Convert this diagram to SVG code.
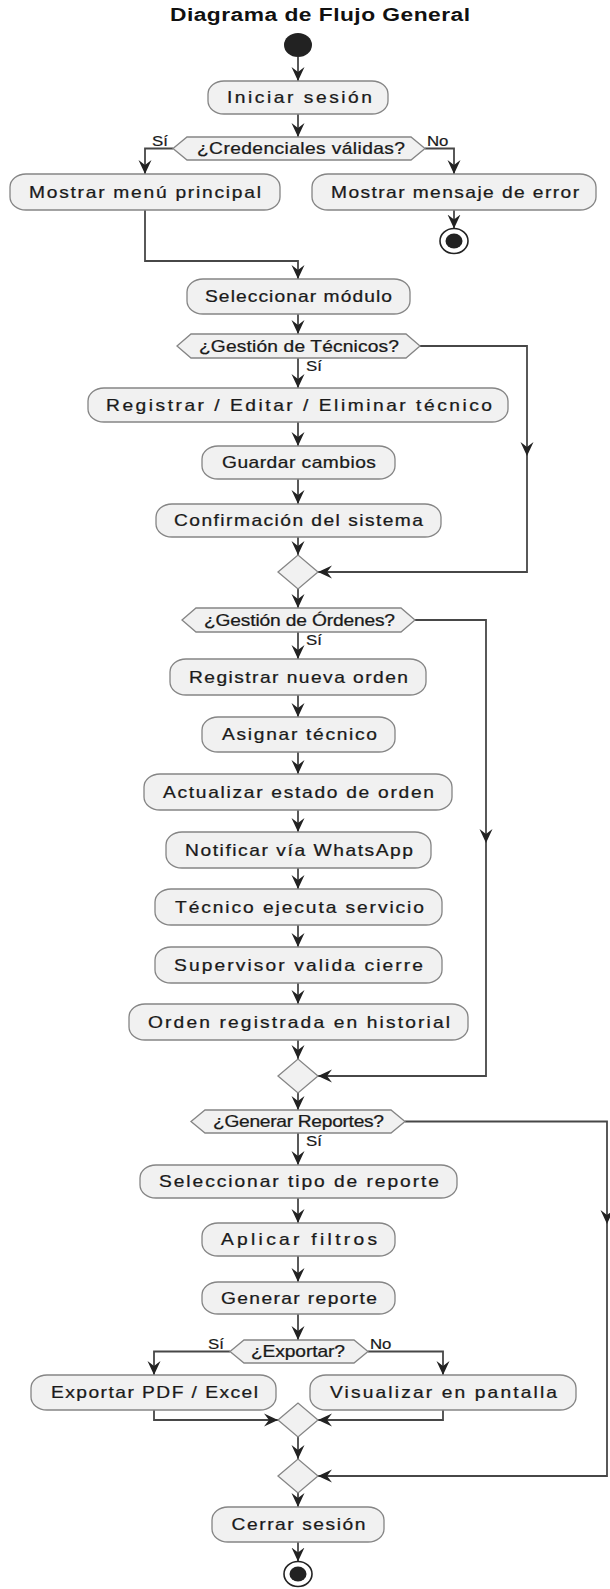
<svg xmlns="http://www.w3.org/2000/svg" width="610" height="1589" viewBox="0 0 610 1589">
<style>
.box{fill:#F1F1F1;stroke:#858585;stroke-width:1.3}
.dec{fill:#F1F1F1;stroke:#858585;stroke-width:1.3}
.t{font-family:"Liberation Sans",Arial,sans-serif;font-size:16px;fill:#1a1a1a;stroke:#1a1a1a;stroke-width:0.25}
.lb{font-family:"Liberation Sans",Arial,sans-serif;font-size:14px;fill:#1a1a1a;stroke:#1a1a1a;stroke-width:0.2}
.ttl{font-family:"Liberation Sans",Arial,sans-serif;font-size:19px;font-weight:bold;fill:#111}
.c{fill:none;stroke:#474747;stroke-width:1.8}
.a{marker-end:url(#ah)}
.dot{fill:#222}
.ring{fill:#fff;stroke:#222;stroke-width:1.6}
</style>
<defs>
<marker id="ah" viewBox="0 0 14 14" refX="14" refY="7" markerWidth="14" markerHeight="14" markerUnits="userSpaceOnUse" orient="auto">
<path d="M0,0.5 L14,7 L0,13.5 L5,7 Z" fill="#222"/>
</marker>
</defs>
<rect width="610" height="1589" fill="#fff"/>
<text class="ttl" transform="translate(170 21) scale(1.2 1)" textLength="250" lengthAdjust="spacing">Diagrama de Flujo General</text>

<g id="connectors">
<path class="c a" d="M298,57 V81"/>
<path class="c a" d="M298,114 V137"/>
<path class="c a" d="M173,148.5 H145 V174"/>
<path class="c a" d="M425,148.5 H454 V174"/>
<path class="c a" d="M454,210 V228.5"/>
<path class="c a" d="M145,210 V261 H298 V279"/>
<path class="c a" d="M298,314 V334"/>
<path class="c a" d="M420,346 H527 V456"/>
<path class="c a" d="M527,456 V572 H318"/>
<path class="c a" d="M298,358 V388"/>
<path class="c a" d="M298,422 V446"/>
<path class="c a" d="M298,479 V504"/>
<path class="c a" d="M298,537 V555"/>
<path class="c a" d="M298,589 V608"/>
<path class="c a" d="M415,620 H486 V843"/>
<path class="c a" d="M486,843 V1076 H318"/>
<path class="c a" d="M298,632 V659"/>
<path class="c a" d="M298,695 V717"/>
<path class="c a" d="M298,752 V774"/>
<path class="c a" d="M298,810 V832"/>
<path class="c a" d="M298,868 V889"/>
<path class="c a" d="M298,925 V947"/>
<path class="c a" d="M298,983 V1004"/>
<path class="c a" d="M298,1040 V1059"/>
<path class="c a" d="M298,1093 V1110"/>
<path class="c a" d="M405,1121.5 H607 V1224"/>
<path class="c a" d="M607,1224 V1476 H318"/>
<path class="c a" d="M298,1133 V1165"/>
<path class="c a" d="M298,1198 V1223"/>
<path class="c a" d="M298,1256 V1282"/>
<path class="c a" d="M298,1314 V1340"/>
<path class="c a" d="M230,1351.5 H154 V1375"/>
<path class="c a" d="M368,1351.5 H443 V1375"/>
<path class="c a" d="M154,1410 V1420 H278"/>
<path class="c a" d="M443,1410 V1420 H318"/>
<path class="c a" d="M298,1437 V1459"/>
<path class="c a" d="M298,1493 V1507"/>
<path class="c a" d="M298,1542 V1561.5"/>
<text class="lb" transform="translate(152 146) scale(1.2 1)">Sí</text>
<text class="lb" transform="translate(427 146) scale(1.2 1)">No</text>
<text class="lb" transform="translate(306 371) scale(1.2 1)">Sí</text>
<text class="lb" transform="translate(306 645) scale(1.2 1)">Sí</text>
<text class="lb" transform="translate(306 1146) scale(1.2 1)">Sí</text>
<text class="lb" transform="translate(208 1349) scale(1.2 1)">Sí</text>
<text class="lb" transform="translate(370 1349) scale(1.2 1)">No</text>
</g>

<g id="start"><ellipse class="dot" cx="298" cy="45" rx="14" ry="12"/></g>

<g id="n-iniciar"><rect class="box" x="208" y="81" width="180" height="33" rx="16" ry="13"/><text class="t" transform="translate(227 103) scale(1.2 1)" textLength="120.8" lengthAdjust="spacing">Iniciar sesión</text></g>

<g id="d-credenciales"><polygon class="dec" points="173,148.5 187,137 411,137 425,148.5 411,160 187,160"/><text class="t" transform="translate(197 154) scale(1.2 1)" textLength="173.3" lengthAdjust="spacing">¿Credenciales válidas?</text></g>

<g id="n-menu"><rect class="box" x="10" y="174" width="270" height="36" rx="16" ry="13"/><text class="t" transform="translate(29 197.5) scale(1.2 1)" textLength="193.3" lengthAdjust="spacing">Mostrar menú principal</text></g>

<g id="n-error"><rect class="box" x="312" y="174" width="284" height="36" rx="16" ry="13"/><text class="t" transform="translate(331 197.5) scale(1.2 1)" textLength="206.7" lengthAdjust="spacing">Mostrar mensaje de error</text></g>

<g id="end-error"><ellipse class="ring" cx="454" cy="241" rx="14" ry="12.5"/><ellipse class="dot" cx="454" cy="241" rx="8.5" ry="7.5"/></g>

<g id="n-modulo"><rect class="box" x="187" y="279" width="223" height="35" rx="16" ry="13"/><text class="t" transform="translate(205 302) scale(1.2 1)" textLength="155.8" lengthAdjust="spacing">Seleccionar módulo</text></g>

<g id="d-tecnicos"><polygon class="dec" points="177,346 191,334 406,334 420,346 406,358 191,358"/><text class="t" transform="translate(199 351.5) scale(1.2 1)" textLength="166.7" lengthAdjust="spacing">¿Gestión de Técnicos?</text></g>

<g id="n-reg-tecnico"><rect class="box" x="88" y="388" width="420" height="34" rx="16" ry="13"/><text class="t" transform="translate(106 410.5) scale(1.2 1)" textLength="321.7" lengthAdjust="spacing">Registrar / Editar / Eliminar técnico</text></g>

<g id="n-guardar"><rect class="box" x="202" y="446" width="193" height="33" rx="16" ry="13"/><text class="t" transform="translate(222 468) scale(1.2 1)" textLength="128.3" lengthAdjust="spacing">Guardar cambios</text></g>

<g id="n-confirmacion"><rect class="box" x="156" y="504" width="285" height="33" rx="16" ry="13"/><text class="t" transform="translate(174 526) scale(1.2 1)" textLength="207.5" lengthAdjust="spacing">Confirmación del sistema</text></g>

<g id="m-tecnicos"><polygon class="dec" points="278,572 298,555 318,572 298,589"/></g>

<g id="d-ordenes"><polygon class="dec" points="182,620 196,608 401,608 415,620 401,632 196,632"/><text class="t" transform="translate(204 625.5) scale(1.2 1)" textLength="159.2" lengthAdjust="spacing">¿Gestión de Órdenes?</text></g>

<g id="n-reg-orden"><rect class="box" x="170" y="659" width="256" height="36" rx="16" ry="13"/><text class="t" transform="translate(189 682.5) scale(1.2 1)" textLength="182.5" lengthAdjust="spacing">Registrar nueva orden</text></g>

<g id="n-asignar"><rect class="box" x="202" y="717" width="193" height="35" rx="16" ry="13"/><text class="t" transform="translate(222 740) scale(1.2 1)" textLength="129.2" lengthAdjust="spacing">Asignar técnico</text></g>

<g id="n-actualizar"><rect class="box" x="144" y="774" width="308" height="36" rx="16" ry="13"/><text class="t" transform="translate(163 797.5) scale(1.2 1)" textLength="225.8" lengthAdjust="spacing">Actualizar estado de orden</text></g>

<g id="n-notificar"><rect class="box" x="166" y="832" width="265" height="36" rx="16" ry="13"/><text class="t" transform="translate(185 855.5) scale(1.2 1)" textLength="190" lengthAdjust="spacing">Notificar vía WhatsApp</text></g>

<g id="n-ejecuta"><rect class="box" x="155" y="889" width="287" height="36" rx="16" ry="13"/><text class="t" transform="translate(175 912.5) scale(1.2 1)" textLength="207.5" lengthAdjust="spacing">Técnico ejecuta servicio</text></g>

<g id="n-supervisor"><rect class="box" x="155" y="947" width="287" height="36" rx="16" ry="13"/><text class="t" transform="translate(174 970.5) scale(1.2 1)" textLength="207.5" lengthAdjust="spacing">Supervisor valida cierre</text></g>

<g id="n-historial"><rect class="box" x="129" y="1004" width="339" height="36" rx="16" ry="13"/><text class="t" transform="translate(148 1027.5) scale(1.2 1)" textLength="251.7" lengthAdjust="spacing">Orden registrada en historial</text></g>

<g id="m-ordenes"><polygon class="dec" points="278,1076 298,1059 318,1076 298,1093"/></g>

<g id="d-reportes"><polygon class="dec" points="191,1121.5 205,1110 391,1110 405,1121.5 391,1133 205,1133"/><text class="t" transform="translate(213 1127) scale(1.2 1)" textLength="142.5" lengthAdjust="spacing">¿Generar Reportes?</text></g>

<g id="n-tipo"><rect class="box" x="140" y="1165" width="317" height="33" rx="16" ry="13"/><text class="t" transform="translate(159 1187) scale(1.2 1)" textLength="233.3" lengthAdjust="spacing">Seleccionar tipo de reporte</text></g>

<g id="n-filtros"><rect class="box" x="202" y="1223" width="193" height="33" rx="16" ry="13"/><text class="t" transform="translate(221 1245) scale(1.2 1)" textLength="130" lengthAdjust="spacing">Aplicar filtros</text></g>

<g id="n-generar"><rect class="box" x="202" y="1282" width="193" height="32" rx="16" ry="13"/><text class="t" transform="translate(221 1303.5) scale(1.2 1)" textLength="130" lengthAdjust="spacing">Generar reporte</text></g>

<g id="d-exportar"><polygon class="dec" points="230,1351.5 244,1340 354,1340 368,1351.5 354,1363 244,1363"/><text class="t" transform="translate(251 1357) scale(1.2 1)" textLength="78.3" lengthAdjust="spacing">¿Exportar?</text></g>

<g id="n-pdf"><rect class="box" x="31" y="1375" width="245" height="35" rx="16" ry="13"/><text class="t" transform="translate(51 1398) scale(1.2 1)" textLength="172.5" lengthAdjust="spacing">Exportar PDF / Excel</text></g>

<g id="n-pantalla"><rect class="box" x="310" y="1375" width="266" height="35" rx="16" ry="13"/><text class="t" transform="translate(330 1398) scale(1.2 1)" textLength="189.2" lengthAdjust="spacing">Visualizar en pantalla</text></g>

<g id="m-exportar"><polygon class="dec" points="278,1420 298,1403 318,1420 298,1437"/></g>

<g id="m-reportes"><polygon class="dec" points="278,1476 298,1459 318,1476 298,1493"/></g>

<g id="n-cerrar"><rect class="box" x="212" y="1507" width="172" height="35" rx="16" ry="13"/><text class="t" transform="translate(231.5 1530) scale(1.2 1)" textLength="111.7" lengthAdjust="spacing">Cerrar sesión</text></g>

<g id="end"><ellipse class="ring" cx="298" cy="1574" rx="14" ry="12.5"/><ellipse class="dot" cx="298" cy="1574" rx="8.5" ry="7.5"/></g>
</svg>
